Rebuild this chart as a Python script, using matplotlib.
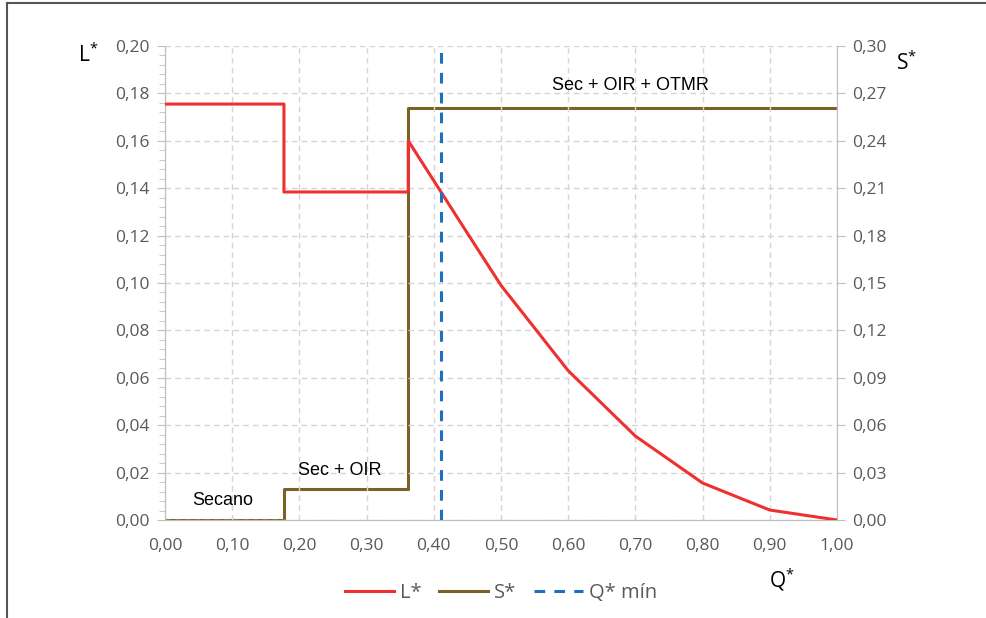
import matplotlib
matplotlib.use('Agg')
import matplotlib.pyplot as plt
from matplotlib.ticker import FuncFormatter, MultipleLocator
from matplotlib.lines import Line2D

plt.rcParams['font.family'] = ['Open Sans', 'DejaVu Sans']

# L* (left axis) - step part then decreasing curve
l_q = [0.0, 0.177, 0.177, 0.362, 0.362, 0.45, 0.50, 0.60, 0.70, 0.80, 0.90, 1.00]
l_val = [0.1755, 0.1755, 0.1384, 0.1384, 0.160, 0.121, 0.099, 0.063, 0.0354, 0.0156, 0.0042, 0.0]

# S* (right axis) - step function
s_q = [0.0, 0.177, 0.177, 0.362, 0.362, 1.00]
s_val = [0.0, 0.0, 0.0196, 0.0196, 0.261, 0.261]

q_min = 0.41

labels = ['Secano', 'Sec + OIR', 'Sec + OIR + OTMR']
label_pos = [(0.086, 0.0082), (0.26, 0.0208), (0.692, 0.1835)]

red = '#EE3030'
olive = '#7A6128'
blue = '#1F6FBF'
grid_c = '#D4D4D4'
tick_c = '#595959'
spine_c = '#BFBFBF'

fig = plt.figure(figsize=(9.87, 6.18), dpi=100)
ax = fig.add_axes([165 / 987, 98 / 618, 672 / 987, 474 / 618])
ax2 = ax.twinx()

ax.plot(l_q, l_val, color=red, lw=2.2, zorder=3)
ax2.plot(s_q, s_val, color=olive, lw=2.2, zorder=4)
ax.axvline(q_min, color=blue, lw=2.2, ls=(0, (3.5, 3)), zorder=10)
ax.set_zorder(ax2.get_zorder() + 1)
ax.patch.set_visible(False)

ax.set_xlim(0, 1)
ax.set_ylim(0, 0.20)
ax2.set_ylim(0, 0.30)
ax.xaxis.set_major_locator(MultipleLocator(0.1))
ax.yaxis.set_major_locator(MultipleLocator(0.02))
ax.yaxis.set_minor_locator(MultipleLocator(0.004))
ax2.yaxis.set_major_locator(MultipleLocator(0.03))

comma = FuncFormatter(lambda v, p: f'{v:.2f}'.replace('.', ','))
ax.xaxis.set_major_formatter(comma)
ax.yaxis.set_major_formatter(comma)
ax2.yaxis.set_major_formatter(comma)

ax.grid(True, which='major', color=grid_c, ls=(0, (4, 3)), lw=1)
for a in (ax, ax2):
    for s in a.spines.values():
        s.set_color(spine_c)
    a.spines['top'].set_visible(False)
    a.tick_params(colors=tick_c, labelsize=12.5, color=spine_c)
ax.tick_params(axis='x', length=0, pad=13)
ax.tick_params(axis='y', which='major', length=6, pad=5)
ax.tick_params(axis='y', which='minor', length=4, color=spine_c)
ax2.tick_params(axis='y', length=6, pad=5)

for txt, (x, y) in zip(labels, label_pos):
    ax.text(x, y, txt, ha='center', va='center', fontsize=13,
            family='Liberation Sans', color='black', zorder=11)

fig.text(88 / 987, 1 - 55 / 618, r'$\mathregular{L^{*}}$', fontsize=15, ha='center', va='center')
fig.text(907 / 987, 1 - 63 / 618, r'$\mathregular{S^{*}}$', fontsize=15, ha='center', va='center')
fig.text(782 / 987, 1 - 580 / 618, r'$\mathregular{Q^{*}}$', fontsize=15, ha='center', va='center')

handles = [Line2D([], [], color=red, lw=2.2),
           Line2D([], [], color=olive, lw=2.2),
           Line2D([], [], color=blue, lw=2.2, ls=(0, (3.5, 3)))]
leg = fig.legend(handles, ['L*', 'S*', 'Q* mín'], loc='center', ncol=3,
                 bbox_to_anchor=(501 / 987, 25 / 618), frameon=False,
                 handlelength=2.4, columnspacing=0.9, handletextpad=0.3,
                 prop={'family': 'Open Sans', 'size': 14.5})
for t in leg.get_texts():
    t.set_color(tick_c)

# outer frame (left and top edges)
fig.add_artist(Line2D([7 / 987, 7 / 987], [0, 1 - 3 / 618], color='#555555', lw=1.5))
fig.add_artist(Line2D([7 / 987, 1], [1 - 3 / 618, 1 - 3 / 618], color='#555555', lw=1.5))

fig.savefig('out.png', dpi=100)
